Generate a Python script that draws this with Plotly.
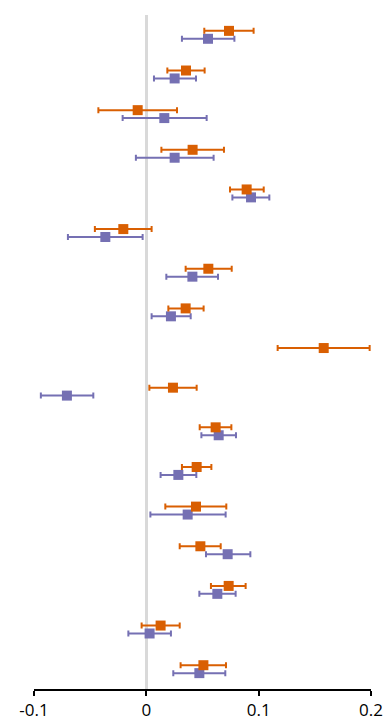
import plotly.graph_objects as go

rows = list(range(1, 18))

orange_est = [0.0736, 0.0353, -0.0077, 0.0412, 0.0893, -0.0205, 0.0552, 0.0350, 0.1579,
              0.0237, 0.0617, 0.0448, 0.0442, 0.0481, 0.0733, 0.0127, 0.0508]
orange_lo = [0.0516, 0.0187, -0.0427, 0.0134, 0.0745, -0.0458, 0.0350, 0.0196, 0.1169,
             0.0027, 0.0475, 0.0317, 0.0169, 0.0297, 0.0575, -0.0042, 0.0305]
orange_hi = [0.0955, 0.0519, 0.0273, 0.0691, 0.1045, 0.0047, 0.0760, 0.0510, 0.1988,
             0.0448, 0.0757, 0.0579, 0.0712, 0.0662, 0.0884, 0.0297, 0.0709]

purple_est = [0.0549, 0.0252, 0.0160, 0.0252, 0.0932, -0.0365, 0.0410, 0.0219, None,
              -0.0707, 0.0644, 0.0285, 0.0368, 0.0724, 0.0632, 0.0029, 0.0472]
purple_lo = [0.0317, 0.0068, -0.0211, -0.0093, 0.0766, -0.0698, 0.0178, 0.0047, None,
             -0.0939, 0.0490, 0.0127, 0.0036, 0.0531, 0.0472, -0.0160, 0.0240]
purple_hi = [0.0784, 0.0442, 0.0537, 0.0599, 0.1095, -0.0033, 0.0638, 0.0395, None,
             -0.0472, 0.0798, 0.0445, 0.0706, 0.0926, 0.0795, 0.0219, 0.0703]

tick_vals = [-0.1, 0, 0.1, 0.2]
tick_text = ["-0.1", "0", "0.1", "0.2"]

ORANGE = "#D95F02"
PURPLE = "#7570B3"
OFFSET = 0.1


def plus(est, hi):
    return [None if e is None else h - e for e, h in zip(est, hi)]


def minus(est, lo):
    return [None if e is None else e - l for e, l in zip(est, lo)]


fig = go.Figure()
fig.add_trace(go.Scatter(
    x=purple_est, y=[r + OFFSET for r in rows], mode="markers",
    marker=dict(symbol="square", size=10, color=PURPLE),
    error_x=dict(type="data", array=plus(purple_est, purple_hi),
                 arrayminus=minus(purple_est, purple_lo),
                 color=PURPLE, thickness=2, width=3),
    showlegend=False,
))
fig.add_trace(go.Scatter(
    x=orange_est, y=[r - OFFSET for r in rows], mode="markers",
    marker=dict(symbol="square", size=10, color=ORANGE),
    error_x=dict(type="data", array=plus(orange_est, orange_hi),
                 arrayminus=minus(orange_est, orange_lo),
                 color=ORANGE, thickness=2, width=3),
    showlegend=False,
))

fig.update_layout(
    width=390, height=720,
    margin=dict(l=34, r=19, t=15, b=31),
    paper_bgcolor="white", plot_bgcolor="white",
    font=dict(family="Open Sans", size=17, color="black"),
    xaxis=dict(range=[-0.1, 0.2], tickvals=tick_vals, ticktext=tick_text,
               showgrid=False, zeroline=True, zerolinecolor="#D9D9D9", zerolinewidth=3,
               showline=True, linecolor="black", linewidth=2,
               ticks="outside", ticklen=5, tickwidth=2, tickcolor="black",
               automargin=False, fixedrange=True),
    yaxis=dict(range=[17.5, 0.5], showticklabels=False, showgrid=False,
               zeroline=False, showline=False, ticks="", automargin=False,
               fixedrange=True),
)

fig.write_html("out.html")
